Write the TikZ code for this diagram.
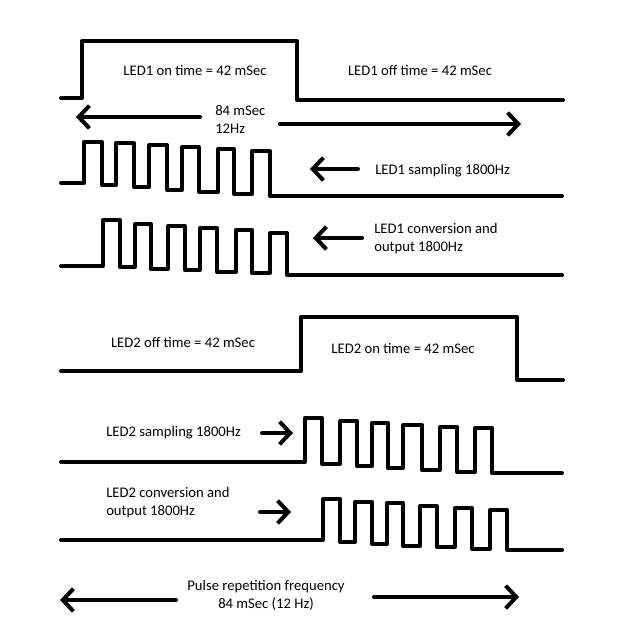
\documentclass[tikz,border=0pt]{standalone}
\usepackage{fontspec}
\setmainfont{Carlito}
\usetikzlibrary{arrows.meta,positioning}

\tikzset{
wave/.style={
  line width=3pt,
  line join=round,
  line cap=round
},
arrowline/.style={
  wave,
  -{Straight Barb[length=8pt,width=17pt,line width=3pt]}
},
label/.style={
  font=\fontsize{11}{13.5}\selectfont,
  align=left,
  inner sep=0pt
}
}

\begin{document}
\begin{tikzpicture}[x=0.75pt,y=-0.75pt]
\useasboundingbox (0,0) rectangle (639,641);

% ============================================================================
% LED1
% ============================================================================
\draw[wave] (61,98) -- (82,98) -- (82,41) -- (297,41) -- (297,100) -- (563,100);
\node[label] (on1) at (195,70) {LED1 on time = 42 mSec};
\node[label] (off1) at (420,70) {LED1 off time = 42 mSec};

% periodo
\node[label, anchor=west] (period) at (215,119) {84 mSec\\12Hz};
\coordinate (periodL0) at (200,117);
\coordinate (periodL1) at (76,117);
\coordinate (periodR0) at (280,124);
\coordinate (periodR1) at (521,124);
\draw[arrowline] (periodL0) -- (periodL1);
\draw[arrowline] (periodR0) -- (periodR1);

% amostragem LED1
\draw[wave] (61,183) -- (84,183) -- (84,142) -- (102,142) -- (102,185) -- (116,185)
  -- (116,143) -- (134,143) -- (134,187) -- (149,187) -- (149,145) -- (167,145)
  -- (167,190) -- (182,190) -- (182,147) -- (199,147) -- (199,192) -- (218,192)
  -- (218,149) -- (234,149) -- (234,194) -- (252,194) -- (252,151) -- (270,151)
  -- (270,196) -- (562,196);
\node[label, anchor=west] (samp1) at (375,171) {LED1 sampling 1800Hz};
\coordinate (samp1a) at (358,169);
\coordinate (samp1b) at (310,169);
\draw[arrowline] (samp1a) -- (samp1b);

% conversao LED1
\draw[wave] (61,266) -- (103,266) -- (103,220) -- (120,220) -- (120,267) -- (135,267)
  -- (135,224) -- (151,224) -- (151,269) -- (168,269) -- (168,226) -- (185,226)
  -- (185,270) -- (200,270) -- (200,228) -- (217,228) -- (217,272) -- (236,272)
  -- (236,230) -- (252,230) -- (252,273) -- (270,273) -- (270,233) -- (287,233)
  -- (287,275) -- (562,275);
\node[label, anchor=west] (conv1) at (374,239) {LED1 conversion and\\output 1800Hz};
\coordinate (conv1a) at (362,238);
\coordinate (conv1b) at (313,238);
\draw[arrowline] (conv1a) -- (conv1b);

% ============================================================================
% LED2
% ============================================================================
\draw[wave] (61,371) -- (301,371) -- (301,317) -- (517,317) -- (517,380) -- (563,380);
\node[label] (off2) at (183,342) {LED2 off time = 42 mSec};
\node[label] (on2) at (403,348) {LED2 on time = 42 mSec};

% amostragem LED2
\draw[wave] (61,462) -- (305,462) -- (305,418) -- (322,418) -- (322,464) -- (340,464)
  -- (340,421) -- (357,421) -- (357,466) -- (372,466) -- (372,423) -- (388,423)
  -- (388,468) -- (403,468) -- (403,425) -- (422,425) -- (422,470) -- (440,470)
  -- (440,427) -- (457,427) -- (457,472) -- (475,472) -- (475,428) -- (492,428)
  -- (492,473) -- (562,473);
\node[label, anchor=west] (samp2) at (106,433) {LED2 sampling 1800Hz};
\coordinate (samp2a) at (262,433);
\coordinate (samp2b) at (293,433);
\draw[arrowline] (samp2a) -- (samp2b);

% conversao LED2
\draw[wave] (61,540) -- (323,540) -- (323,499) -- (340,499) -- (340,542) -- (355,542)
  -- (355,502) -- (372,502) -- (372,544) -- (387,544) -- (387,503) -- (403,503)
  -- (403,546) -- (420,546) -- (420,506) -- (437,506) -- (437,547) -- (455,547)
  -- (455,508) -- (472,508) -- (472,549) -- (490,549) -- (490,510) -- (507,510)
  -- (507,550) -- (562,550);
\node[label, anchor=west] (conv2) at (106,503) {LED2 conversion and\\output 1800Hz};
\coordinate (conv2a) at (260,512);
\coordinate (conv2b) at (291,512);
\draw[arrowline] (conv2a) -- (conv2b);

% ============================================================================
% FREQUENCIA DE REPETICAO
% ============================================================================
\node[label, align=center] (prf) at (266,595) {Pulse repetition frequency\\84 mSec (12 Hz)};
\coordinate (prfL0) at (176,600);
\coordinate (prfL1) at (60,600);
\coordinate (prfR0) at (374,597);
\coordinate (prfR1) at (519,597);
\draw[arrowline] (prfL0) -- (prfL1);
\draw[arrowline] (prfR0) -- (prfR1);

\end{tikzpicture}
\end{document}
